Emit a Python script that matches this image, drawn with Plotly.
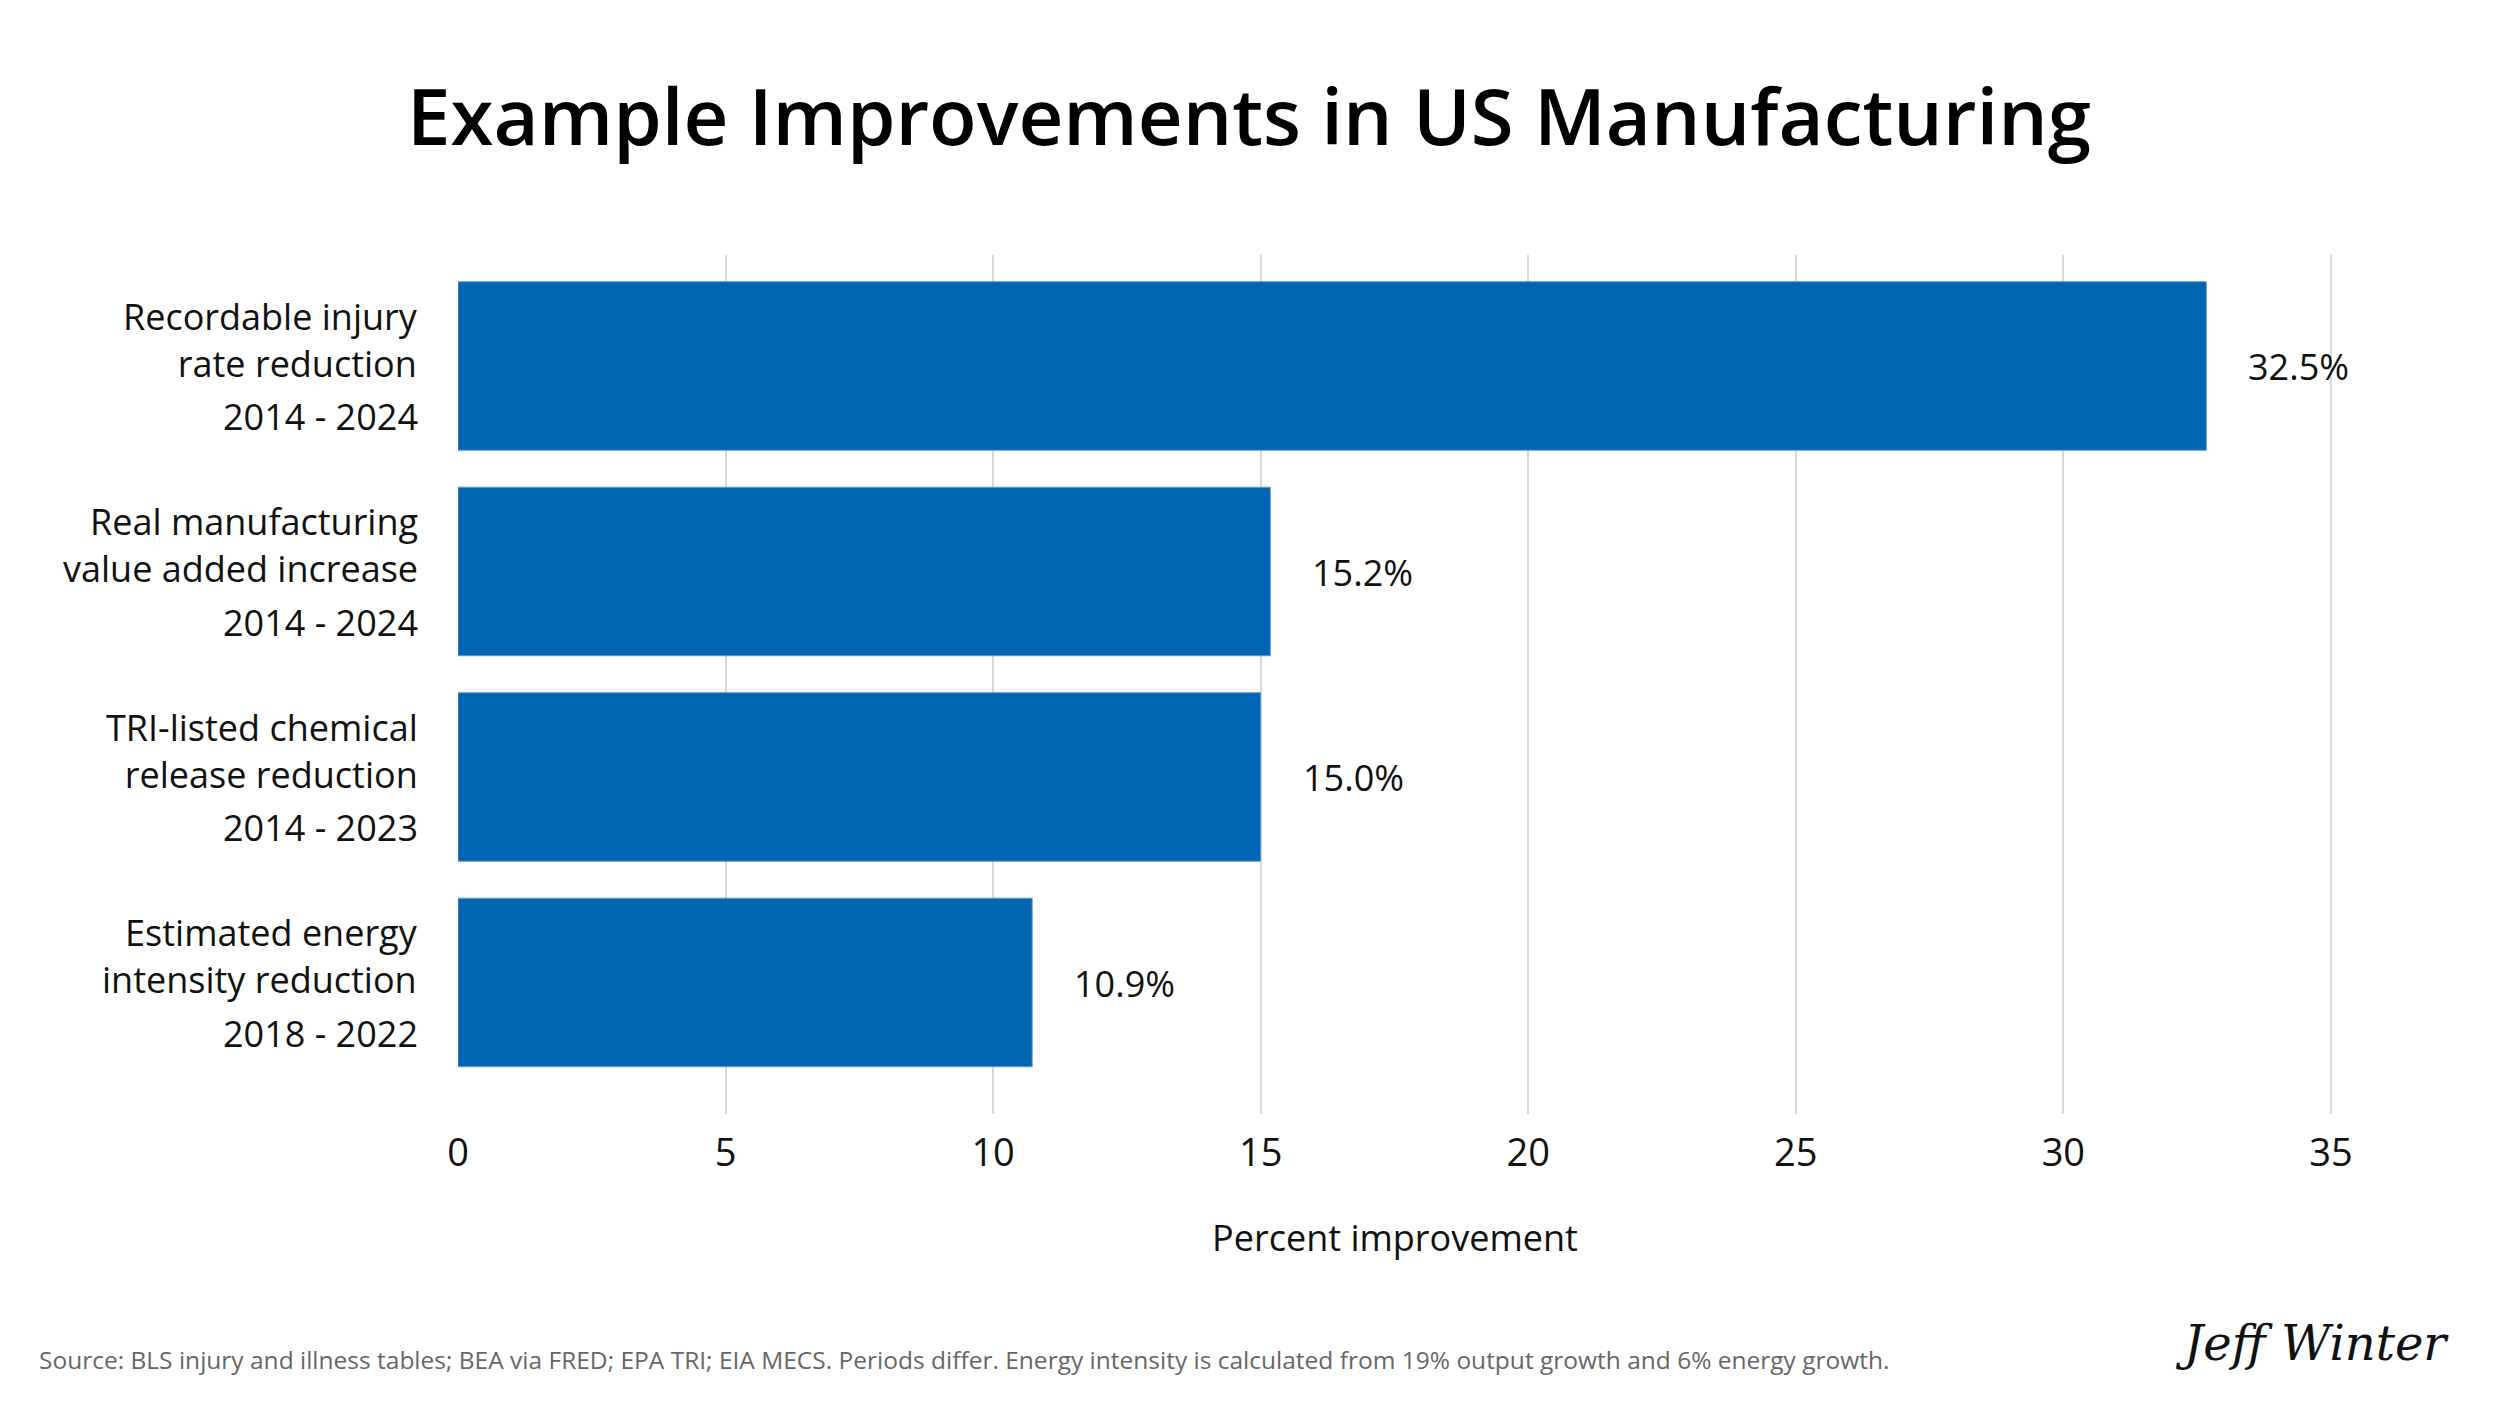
import plotly.graph_objects as go

# data
name_line1 = ["Recordable injury", "Real manufacturing", "TRI-listed chemical", "Estimated energy"]
name_line2 = ["rate reduction", "value added increase", "release reduction", "intensity reduction"]
periods = ["2014 - 2024", "2014 - 2024", "2014 - 2023", "2018 - 2022"]
improvement = [32.67, 15.18, 15.0, 10.73]
value_labels = ["32.5%", "15.2%", "15.0%", "10.9%"]
x_ticks = [0, 5, 10, 15, 20, 25, 30, 35]

title = "Example Improvements in US Manufacturing"
x_title = "Percent improvement"
source = ("Source: BLS injury and illness tables; BEA via FRED; EPA TRI; EIA MECS. Periods differ. "
          "Energy intensity is calculated from 19% output growth and 6% energy growth.")

FONT = "Segoe UI, Open Sans, sans-serif"
BLUE = "#0066b3"

# plot area in page pixels (page has an 8px body margin)
L, R, T, B = 450, 176, 247, 300
PW, PH = 2500 - L - R, 1406 - T - B


def px(x):
    return (x - 8 - L) / PW


def py(y):
    return (1406 - B - (y - 8)) / PH


categories = [a + " " + b for a, b in zip(name_line1, name_line2)]

fig = go.Figure(go.Bar(
    x=improvement,
    y=categories,
    orientation="h",
    marker=dict(color=BLUE, line=dict(color="#5a9bd3", width=1)),
    hoverinfo="skip",
))

annotations = []
for cat, l1, l2, per, val, lab in zip(categories, name_line1, name_line2, periods, improvement, value_labels):
    # category name (two lines) and the period below it
    for txt, shift in ((l1 + "<br>" + l2, 26), (per, -51)):
        annotations.append(dict(
            x=0, y=cat, xref="x", yref="y", text=txt, showarrow=False, align="right",
            xanchor="right", yanchor="middle", xshift=-38, yshift=shift,
            font=dict(family=FONT, size=36, color="#111111"),
        ))
    # value label next to the bar end
    annotations.append(dict(
        x=val, y=cat, xref="x", yref="y", text=lab, showarrow=False,
        xanchor="left", yanchor="middle", xshift=40, yshift=-1,
        font=dict(family=FONT, size=36, color="#111111"),
    ))

annotations.append(dict(
    x=px(37), y=py(1359), xref="paper", yref="paper", xanchor="left", yanchor="middle",
    text=source, showarrow=False, font=dict(family=FONT, size=24.5, color="#666666"),
))
annotations.append(dict(
    x=px(2312), y=py(1343), xref="paper", yref="paper", xanchor="center", yanchor="middle",
    text="<i>Jeff Winter</i>", showarrow=False,
    font=dict(family="DejaVu Serif, serif", size=48, color="#111111"),
))

fig.update_layout(
    width=2500, height=1406,
    margin=dict(l=L, r=R, t=T, b=B),
    paper_bgcolor="white", plot_bgcolor="white",
    showlegend=False,
    bargap=0.18,
    title=dict(
        text=title, x=0.5 - 9 / 2500, xanchor="center", y=1 - 110 / 1406, yanchor="middle",
        font=dict(family=FONT, size=78, color="black", weight=600),
    ),
    font=dict(family=FONT, color="#111111"),
    annotations=annotations,
)
fig.update_xaxes(
    range=[0, 35.02], tickvals=x_ticks, showgrid=True, gridcolor="#d9d9d9", gridwidth=2,
    zeroline=False, showline=False, ticks="", ticklabelstandoff=13,
    tickfont=dict(family=FONT, size=38, color="#111111"),
    title=dict(text=x_title, font=dict(family=FONT, size=36, color="#111111"), standoff=49),
)
fig.update_yaxes(
    type="category", range=[3.64, -0.54], showticklabels=False, showgrid=False,
    zeroline=False, showline=False, ticks="",
)

fig.write_html("out.html")
